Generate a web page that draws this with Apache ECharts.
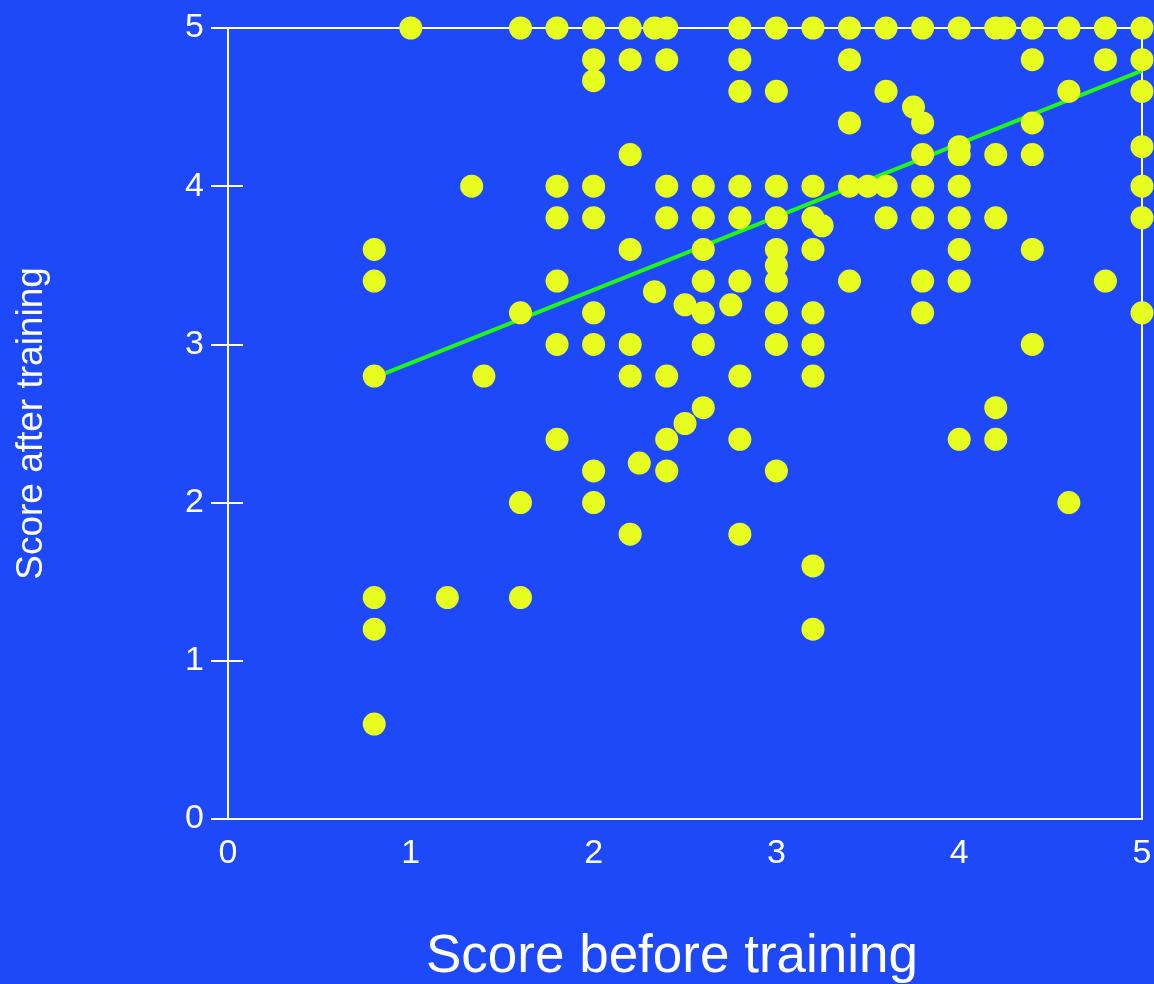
<!DOCTYPE html>
<html>
<head>
<meta charset="utf-8">
<title>Score before vs after training</title>
<script src="https://cdn.jsdelivr.net/npm/echarts@6/dist/echarts.min.js"></script>
<style>
  html, body { margin: 0; padding: 0; background: #1d49f8; }
  #chart { width: 1154px; height: 984px; }
</style>
</head>
<body>
<div id="chart"></div>
<script>
// score before training (x) -> scores after training (y) observed at that x
const beforeScores = [0.8, 1.0, 1.2, 1.333, 1.4, 1.6, 1.8, 2.0, 2.2, 2.25, 2.333, 2.4, 2.5, 2.6, 2.75, 2.8,
    3.0, 3.2, 3.25, 3.4, 3.5, 3.6, 3.75, 3.8, 4.0, 4.2, 4.25, 4.4, 4.6, 4.8, 5.0];
const afterScores = [
    [3.6, 3.4, 2.8, 1.4, 1.2, 0.6],            // 0.8
    [5],                                        // 1.0
    [1.4],                                      // 1.2
    [4],                                        // 1.333
    [2.8],                                      // 1.4
    [5, 3.2, 2.0, 1.4],                         // 1.6
    [5, 4, 3.8, 3.4, 3.0, 2.4],                 // 1.8
    [5, 4.8, 4.667, 4, 3.8, 3.2, 3.0, 2.2, 2.0],// 2.0
    [5, 4.8, 4.2, 3.6, 3.0, 2.8, 1.8],          // 2.2
    [2.25],                                     // 2.25
    [5, 3.333],                                 // 2.333
    [5, 4.8, 4, 3.8, 2.8, 2.4, 2.2],            // 2.4
    [3.25, 2.5],                                // 2.5
    [4, 3.8, 3.6, 3.4, 3.2, 3.0, 2.6],          // 2.6
    [3.25],                                     // 2.75
    [5, 4.8, 4.6, 4, 3.8, 3.4, 2.8, 2.4, 1.8],  // 2.8
    [5, 4.6, 4, 3.8, 3.6, 3.5, 3.4, 3.2, 3.0, 2.2], // 3.0
    [5, 4, 3.8, 3.6, 3.2, 3.0, 2.8, 1.6, 1.2],  // 3.2
    [3.75],                                     // 3.25
    [5, 4.8, 4.4, 4, 3.4],                      // 3.4
    [4],                                        // 3.5
    [5, 4.6, 4, 3.8],                           // 3.6
    [4.5],                                      // 3.75
    [5, 4.4, 4.2, 4, 3.8, 3.4, 3.2],            // 3.8
    [5, 4.25, 4.2, 4, 3.8, 3.6, 3.4, 2.4],      // 4.0
    [5, 4.2, 3.8, 2.6, 2.4],                    // 4.2
    [5],                                        // 4.25
    [5, 4.8, 4.4, 4.2, 3.6, 3.0],               // 4.4
    [5, 4.6, 2.0],                              // 4.6
    [5, 4.8, 3.4],                              // 4.8
    [5, 4.8, 4.6, 4.25, 4, 3.8, 3.2]            // 5.0
];

// fitted trend line end points
const fitX = [0.8, 5.0];
const fitY = [2.79, 4.73];

const axisTicks = [0, 1, 2, 3, 4, 5];

const FONT = '"Liberation Sans", Arial, sans-serif';
const WHITE = '#ffffff';

const points = [];
beforeScores.forEach((x, i) => {
    afterScores[i].forEach(y => points.push([x, y]));
});
const fitData = fitX.map((x, i) => [x, fitY[i]]);

const chart = echarts.init(document.getElementById('chart'));

const option = {
    backgroundColor: '#1d49f8',
    animation: false,
    grid: {
        left: 228, right: 12, top: 28, bottom: 165,
        outerBoundsMode: 'none',
        containLabel: false,
        show: true,
        borderColor: WHITE,
        borderWidth: 2,
        backgroundColor: 'transparent'
    },
    xAxis: {
        type: 'value',
        min: axisTicks[0],
        max: axisTicks[axisTicks.length - 1],
        interval: 1,
        name: 'Score before training',
        nameLocation: 'middle',
        nameGap: 112,
        nameTextStyle: { color: WHITE, fontSize: 53, fontFamily: FONT, padding: [0, 26, 0, 0] },
        axisLine: { show: true, lineStyle: { color: WHITE, width: 2 } },
        axisTick: { show: false },
        axisLabel: { color: WHITE, fontSize: 34, fontFamily: FONT, margin: 18 },
        splitLine: { show: false }
    },
    yAxis: [
        {
            type: 'value',
            position: 'left',
            min: axisTicks[0],
            max: axisTicks[axisTicks.length - 1],
            interval: 1,
            name: 'Score after training',
            nameLocation: 'middle',
            nameGap: 178,
            nameTextStyle: { color: WHITE, fontSize: 37, fontFamily: FONT },
            axisLine: { show: true, lineStyle: { color: WHITE, width: 2 } },
            axisTick: { show: true, length: 17, lineStyle: { color: WHITE, width: 2 } },
            axisLabel: { color: WHITE, fontSize: 34, fontFamily: FONT, margin: 24 },
            splitLine: { show: false }
        },
        {
            // inner half of the crossing ticks
            type: 'value',
            position: 'left',
            offset: 0,
            min: axisTicks[0],
            max: axisTicks[axisTicks.length - 1],
            interval: 1,
            axisLine: { show: false },
            axisTick: { show: true, inside: true, length: 15, lineStyle: { color: WHITE, width: 2 } },
            axisLabel: { show: false },
            splitLine: { show: false }
        }
    ],
    series: [
        {
            name: 'fit',
            type: 'line',
            data: fitData,
            symbol: 'none',
            lineStyle: { color: '#22f51a', width: 4 },
            z: 2
        },
        {
            name: 'scores',
            type: 'scatter',
            data: points,
            symbol: 'circle',
            symbolSize: 23,
            clip: false,
            itemStyle: { color: '#e6fd1f', opacity: 1 },
            z: 3
        }
    ]
};

chart.setOption(option);
window.addEventListener('resize', () => chart.resize());
</script>
</body>
</html>
